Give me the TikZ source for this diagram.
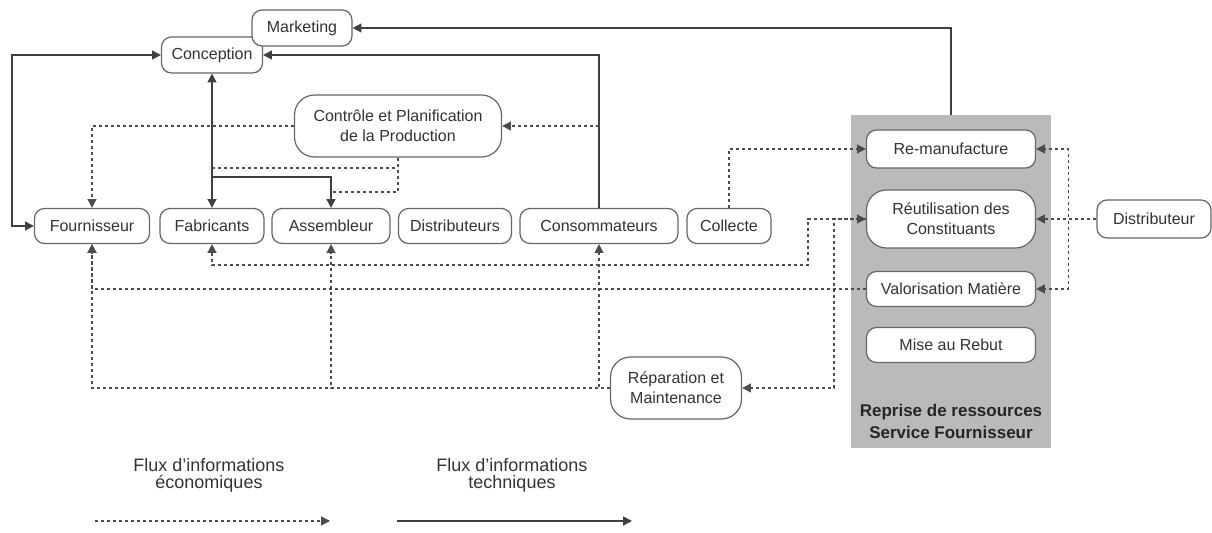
\documentclass[tikz,border=0pt]{standalone}
\usepackage{fontspec}
\setmainfont{Liberation Sans}
\usetikzlibrary{arrows.meta}
\begin{document}
\begin{tikzpicture}[x=0.5pt,y=-0.5pt,
  >={Triangle[length=4.4pt,width=4.4pt]},
  box/.style={draw=black!60, line width=0.6pt, rounded corners=5pt, fill=white,
    font=\fontsize{8}{10}\selectfont, text=black!80, align=center, inner sep=0pt},
  bigbox/.style={box, rounded corners=10pt},
  eco/.style={draw=black!70, line width=0.75pt, dash pattern=on 1.5pt off 1.5pt},
  tech/.style={draw=black!75, line width=0.85pt},
  legend/.style={font=\fontsize{9}{8.6}\selectfont, text=black!80, align=center, inner sep=0pt}]
\useasboundingbox (0,0) rectangle (1212,533);

% grey panel of the supplier take-back service
\node[fill=black!27, minimum width=100pt, minimum height=166.5pt, inner sep=0pt] (grey) at (951,281.5) {};
\node[font=\bfseries\fontsize{8.5}{11}\selectfont, align=center, text=black!85] (greylbl) at (951,421)
  {Reprise de ressources\\Service Fournisseur};

% upper chain
\node[box, minimum width=50.5pt, minimum height=18pt] (conc) at (212,55) {Conception};
\node[box, minimum width=50pt, minimum height=18pt] (mkt) at (302,28) {Marketing};
\node[bigbox, minimum width=103.5pt, minimum height=31pt] (ctrl) at (398,126)
  {Contrôle et Planification\\de la Production};

% actors row
\node[box, minimum width=57.5pt, minimum height=17.5pt] (four) at (92,226) {Fournisseur};
\node[box, minimum width=52pt, minimum height=17.5pt] (fab) at (212,226) {Fabricants};
\node[box, minimum width=59pt, minimum height=17.5pt] (ass) at (331,226) {Assembleur};
\node[box, minimum width=56.5pt, minimum height=17.5pt] (dist) at (455,226) {Distributeurs};
\node[box, minimum width=79pt, minimum height=17.5pt] (cons) at (599,226) {Consommateurs};
\node[box, minimum width=42pt, minimum height=17.5pt] (coll) at (729,226) {Collecte};

% recovery options
\node[box, minimum width=84.5pt, minimum height=19pt] (reman) at (951,149) {Re-manufacture};
\node[bigbox, minimum width=84.5pt, minimum height=29pt] (reut) at (951,219) {Réutilisation des\\Constituants};
\node[box, minimum width=84.5pt, minimum height=17.5pt] (valo) at (951,289) {Valorisation Matière};
\node[box, minimum width=84.5pt, minimum height=17.5pt] (mise) at (951,345) {Mise au Rebut};
\node[box, minimum width=57pt, minimum height=19pt] (distr) at (1154,219) {Distributeur};
\node[bigbox, minimum width=65.5pt, minimum height=31pt] (rep) at (676,388) {Réparation et\\Maintenance};

% junction points on the technical lines
\coordinate (jf) at (212,168);
\coordinate (ja) at (331,192);
\coordinate (br) at (212,177);

% technical information flows
\draw[tech,->] (grey.north) |- (mkt.east);
\draw[tech,->] (cons.north) |- (conc.east);
\draw[tech,<->] (conc.west) -- ++(-149,0) |- (four.west);
\draw[tech,<->] (conc.south) -- (fab.north);
\draw[tech,->] (br) -| (ass.north);

% economic information flows
\draw[eco,->] (ctrl.west) -| (four.north);
\draw[eco] (ctrl.south) |- (ja);
\draw[eco] (jf) -- (jf -| ctrl.south);
\draw[eco,->] (cons.north |- ctrl.east) -- (ctrl.east);
\draw[eco,->] (coll.north) |- (reman.west);
\draw[eco,<->] (fab.south) |- (808,265) |- (reut.west);
\draw[eco,->] (reut.west) -- ++(-32,0) |- (rep.east);
\draw[eco,->] (valo.west) -| (four.south);
\draw[eco,->] (rep.west) -| (four.south);
\draw[eco,->] (rep.west) -| (ass.south);
\draw[eco,->] (rep.west) -| (cons.south);
\draw[eco,->] (distr.west) -- ++(-28,0) |- (reman.east);
\draw[eco,->] (distr.west) -- (reut.east);
\draw[eco,->] (distr.west) -- ++(-28,0) |- (valo.east);

% legend
\node[legend] (leg1) at (209,475) {Flux d'informations\\économiques};
\node[legend] (leg2) at (512,475) {Flux d'informations\\techniques};
\coordinate (l1a) at (95,521);
\coordinate (l1b) at (330,521);
\coordinate (l2a) at (397,521);
\coordinate (l2b) at (632,521);
\draw[eco,->] (l1a) -- (l1b);
\draw[tech,->] (l2a) -- (l2b);
\end{tikzpicture}
\end{document}
